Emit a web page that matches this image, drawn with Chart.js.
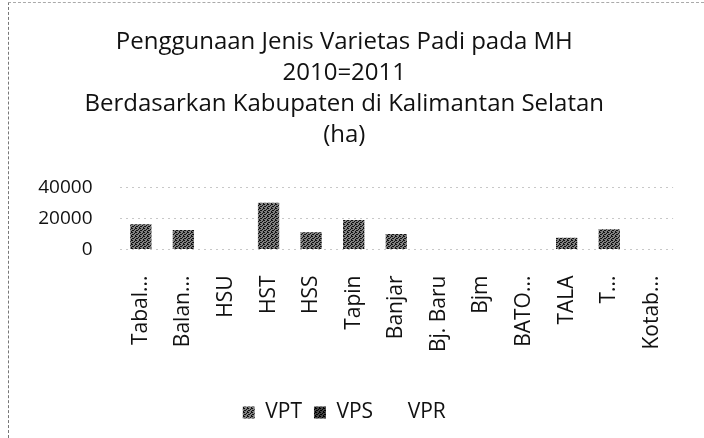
<!DOCTYPE html>
<html>
<head>
<meta charset="utf-8">
<script src="https://cdn.jsdelivr.net/npm/chart.js@4/dist/chart.umd.min.js"></script>
<style>
html,body{margin:0;padding:0;background:#fff;}
#wrap{position:relative;width:704px;height:438px;}
#frame{position:absolute;left:8px;top:2px;right:0;bottom:0;border-left:1px dashed #777;border-top:1px dashed #aaa;pointer-events:none;}
</style>
</head>
<body>
<div id="wrap"><canvas id="c" width="704" height="438"></canvas><div id="frame"></div></div>
<script>
const titleLines = ["Penggunaan Jenis Varietas Padi pada MH", "2010=2011", "Berdasarkan Kabupaten di Kalimantan Selatan", "(ha)"];
const categories = ["Tabal...", "Balan...", "HSU", "HST", "HSS", "Tapin", "Banjar", "Bj. Baru", "Bjm", "BATO...", "TALA", "T...", "Kotab..."];
const vpt = [16300, 12700, 0, 30300, 11200, 19200, 10100, 0, 0, 0, 7700, 13100, 0];
const vps = [0, 0, 0, 0, 0, 0, 0, 0, 0, 0, 0, 0, 0];
const vpr = [0, 0, 0, 0, 0, 0, 0, 0, 0, 0, 0, 0, 0];
const yTicks = [0, 20000, 40000];

function speckle(base, dark) {
  const p = document.createElement('canvas');
  p.width = 4; p.height = 4;
  const g = p.getContext('2d');
  g.fillStyle = base; g.fillRect(0, 0, 4, 4);
  g.fillStyle = dark;
  g.fillRect(0, 0, 1, 1); g.fillRect(2, 1, 1, 1); g.fillRect(1, 2, 1, 1); g.fillRect(3, 3, 1, 1); g.fillRect(3, 0, 1, 1); g.fillRect(0, 2, 1, 1);
  return g.createPattern(p, 'repeat');
}
const ctx = document.getElementById('c').getContext('2d');
const font = "'Open Sans', 'Liberation Sans', sans-serif";

new Chart(ctx, {
  type: 'bar',
  data: {
    labels: categories,
    datasets: [
      { label: 'VPT', data: vpt, backgroundColor: speckle('#808080', '#111'), borderWidth: 0 },
      { label: 'VPS', data: vps, backgroundColor: speckle('#444', '#000'), borderWidth: 0 },
      { label: 'VPR', data: vpr, backgroundColor: '#ffffff', borderWidth: 0 }
    ]
  },
  options: {
    responsive: false,
    animation: false,
    layout: { padding: { left: 10, right: 25.5, top: 27, bottom: 5 } },
    datasets: { bar: { barPercentage: 1, categoryPercentage: 0.5 } },
    plugins: {
      title: {
        display: true,
        text: titleLines,
        color: '#111',
        font: { family: font, size: 24, weight: 'normal', lineHeight: 1.29 },
        padding: { top: 0, bottom: 37 }
      },
      legend: {
        position: 'bottom',
        labels: {
          color: '#111',
          font: { family: font, size: 21 },
          boxWidth: 12, boxHeight: 12, padding: 12
        }
      },
      tooltip: { enabled: false }
    },
    scales: {
      x: {
        stacked: true,
        grid: { display: false, drawTicks: false },
        border: { display: false },
        afterFit: (s) => { s.height = 140.5; },
        ticks: {
          color: '#111',
          font: { family: font, size: 21 },
          minRotation: 90, maxRotation: 90, autoSkip: false, padding: 26
        }
      },
      y: {
        stacked: true,
        min: 0, max: 40000,
        afterBuildTicks: (s) => { s.ticks = yTicks.map(v => ({ value: v })); },
        afterFit: (s) => { s.width = 109.5; },
        grid: { color: '#c8c8c8', lineWidth: 1, drawTicks: false },
        border: { display: false, dash: [2, 4] },
        ticks: {
          color: '#111',
          font: { family: font, size: 19 },
          padding: 27,
          callback: (v) => String(v)
        }
      }
    }
  }
});
</script>
</body>
</html>
